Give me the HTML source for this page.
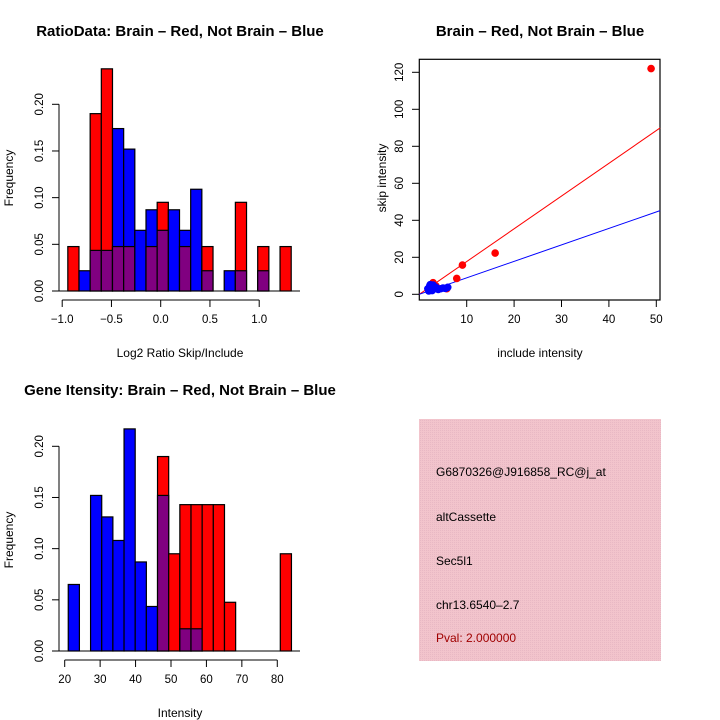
<!DOCTYPE html>
<html><head><meta charset="utf-8"><style>
body{margin:0;background:#fff;}
svg{display:block;font-family:"Liberation Sans",sans-serif;}
</style></head><body>
<svg id="c" width="720" height="720" xmlns="http://www.w3.org/2000/svg">
<defs><pattern id="pk" width="2" height="2" patternUnits="userSpaceOnUse"><rect width="2" height="2" fill="#f2c4cc"/><rect width="1" height="1" fill="#e8b8c4"/></pattern></defs>
<text x="180" y="36" text-anchor="middle" font-size="15" font-weight="bold">RatioData: Brain – Red, Not Brain – Blue</text>
<text x="540" y="36" text-anchor="middle" font-size="15" font-weight="bold">Brain – Red, Not Brain – Blue</text>
<text x="180" y="395" text-anchor="middle" font-size="15" font-weight="bold">Gene Itensity: Brain – Red, Not Brain – Blue</text>
<text x="180" y="357" text-anchor="middle" font-size="12">Log2 Ratio Skip/Include</text>
<text x="540" y="357" text-anchor="middle" font-size="12">include intensity</text>
<text x="180" y="717" text-anchor="middle" font-size="12">Intensity</text>
<text transform="translate(13,178) rotate(-90)" text-anchor="middle" font-size="12">Frequency</text>
<text transform="translate(13,540) rotate(-90)" text-anchor="middle" font-size="12">Frequency</text>
<text transform="translate(386,178) rotate(-90)" text-anchor="middle" font-size="12">skip intensity</text>
<g>
<rect x="419" y="419" width="242" height="242" fill="url(#pk)"/>
<text x="436" y="476" font-size="12">G6870326@J916858_RC@j_at</text>
<text x="436" y="521" font-size="12">altCassette</text>
<text x="436" y="565" font-size="12">Sec5l1</text>
<text x="436" y="609" font-size="12">chr13.6540–2.7</text>
<text x="436" y="642" font-size="12" fill="#a00000">Pval: 2.000000</text>
</g>
</svg>
<script>
// Ratio histogram data
const ratioStart=-0.943, ratioBin=0.1134;
const ratioRed=[0.0476,0,0.190,0.238,0.0476,0.0476,0,0.0476,0.095,0,0.0476,0,0.0476,0,0,0.095,0,0.0476,0,0.0476];
const ratioBlue=[0,0.0217,0.0435,0.0435,0.174,0.152,0.065,0.087,0.065,0.087,0.065,0.109,0.0217,0,0.0217,0.0217,0,0.0217,0,0];
const ratioXTicks=[-1.0,-0.5,0.0,0.5,1.0];
const ratioXLabels=["−1.0","−0.5","0.0","0.5","1.0"];
const freqTicks=[0,0.05,0.10,0.15,0.20];
const freqLabels=["0.00","0.05","0.10","0.15","0.20"];
// Intensity histogram data
const intStart=21.0, intBin=3.15;
const intRed=[0,0,0,0,0,0,0,0,0.190,0.095,0.143,0.143,0.143,0.143,0.0476,0,0,0,0,0.095];
const intBlue=[0.065,0,0.152,0.131,0.108,0.217,0.087,0.0435,0.152,0,0.0217,0.0217,0,0,0,0,0,0,0,0];
const intXTicks=[20,30,40,50,60,70,80];
// Scatter data
const redX=[48.9,16.0,9.1,7.9,2.9,2.4,3.5,5.8];
const redY=[122,22.3,15.8,8.6,6.3,3.2,4.5,3.0];
const blueX=[1.8,2.2,2.5,2.9,3.2,3.6,4.0,4.5,5.0,5.5,6.0,2.0,2.7,3.3,2.3];
const blueY=[3.0,4.5,2.5,5.0,3.0,3.6,2.6,3.0,3.4,3.2,3.8,1.8,2.0,4.0,5.2];
const lineSlope=[1.77,0.89];
const lineColor=["#ff0000","#0000ff"];
const scXTicks=[10,20,30,40,50];
const scYTicks=[0,20,40,60,80,100,120];

const S=document.getElementById('c');
const NS="http://www.w3.org/2000/svg";
function mk(t,a,p){const e=document.createElementNS(NS,t);for(const k in a)e.setAttribute(k,a[k]);(p||S).appendChild(e);return e;}

function hist(gname,start,bw,red,blue,xs,ys,ticksX,labelsX,axisY,tickLblY){
  const g=mk('g',{});
  
  
  for(let i=0;i<red.length;i++){
    const r=red[i],b=blue[i];
    const x0=xs(start+i*bw),x1=xs(start+(i+1)*bw);
    const hi=Math.max(r,b),lo=Math.min(r,b);
    if(hi>0){
      const bar=mk('rect',{x:x0,y:ys(hi),width:x1-x0,height:ys(0)-ys(hi),fill:r>=b?'#ff0000':'#0000ff',stroke:'#000','stroke-width':1.2},g);
      
      
    }
    if(lo>0){
      const ov=mk('rect',{x:x0,y:ys(lo),width:x1-x0,height:ys(0)-ys(lo),fill:'#800080',stroke:'#000','stroke-width':1.2},g);
      
      
    }
  }
  mk('line',{x1:xs(ticksX[0]),x2:xs(ticksX[ticksX.length-1]),y1:axisY,y2:axisY,stroke:'#000'},g);
  ticksX.forEach((t,i)=>{
    mk('line',{x1:xs(t),x2:xs(t),y1:axisY,y2:axisY+7,stroke:'#000'},g);
    const tx=mk('text',{x:xs(t),y:axisY+23,'text-anchor':'middle','font-size':11.5},g);
    tx.textContent=labelsX[i];
  });
  mk('line',{x1:59,x2:59,y1:ys(0),y2:ys(0.2),stroke:'#000'},g);
  freqTicks.forEach((t,i)=>{
    mk('line',{x1:52,x2:59,y1:ys(t),y2:ys(t),stroke:'#000'},g);
    const tx=mk('text',{transform:`translate(${tickLblY},${ys(t)}) rotate(-90)`,'text-anchor':'middle','font-size':11.5},g);
    tx.textContent=freqLabels[i];
  });
  mk('line',{x1:59,x2:300,y1:ys(0),y2:ys(0),stroke:'#000'},g);
}
hist('ratio-histogram',ratioStart,ratioBin,ratioRed,ratioBlue,
  v=>160.7+v*98.5, v=>291-v*933.5, ratioXTicks, ratioXLabels, 300, 43);
hist('intensity-histogram',intStart,intBin,intRed,intBlue,
  v=>64.7+(v-20)*3.543, v=>651-v*1023.5, intXTicks, intXTicks.map(String), 660, 43);

const sx=v=>419.3+v*4.74, sy=v=>294.3-v*1.85;
const sg=mk('g',{});


mk('rect',{x:419.3,y:59.3,width:240.7,height:240.7,fill:'none',stroke:'#000','stroke-width':1.2},sg);
scXTicks.forEach(t=>{
  mk('line',{x1:sx(t),x2:sx(t),y1:300,y2:307,stroke:'#000'},sg);
  const tx=mk('text',{x:sx(t),y:323,'text-anchor':'middle','font-size':11.5},sg);tx.textContent=t;
});
scYTicks.forEach(t=>{
  mk('line',{x1:412,x2:419.3,y1:sy(t),y2:sy(t),stroke:'#000'},sg);
  const tx=mk('text',{transform:`translate(403,${sy(t)}) rotate(-90)`,'text-anchor':'middle','font-size':11.5},sg);tx.textContent=t;
});
const xMax=50.8;
lineSlope.forEach((m,i)=>{
  const l=mk('line',{x1:sx(0),y1:sy(0),x2:sx(xMax),y2:sy(m*xMax),stroke:lineColor[i],'stroke-width':1},sg);
  
  
});
redX.forEach((x,i)=>{
  const c=mk('circle',{cx:sx(x),cy:sy(redY[i]),r:3.8,fill:'#ff0000'},sg);
  
  
});
blueX.forEach((x,i)=>{
  const c=mk('circle',{cx:sx(x),cy:sy(blueY[i]),r:3.8,fill:'#0000ff'},sg);
  
  
});
</script>
</body></html>
